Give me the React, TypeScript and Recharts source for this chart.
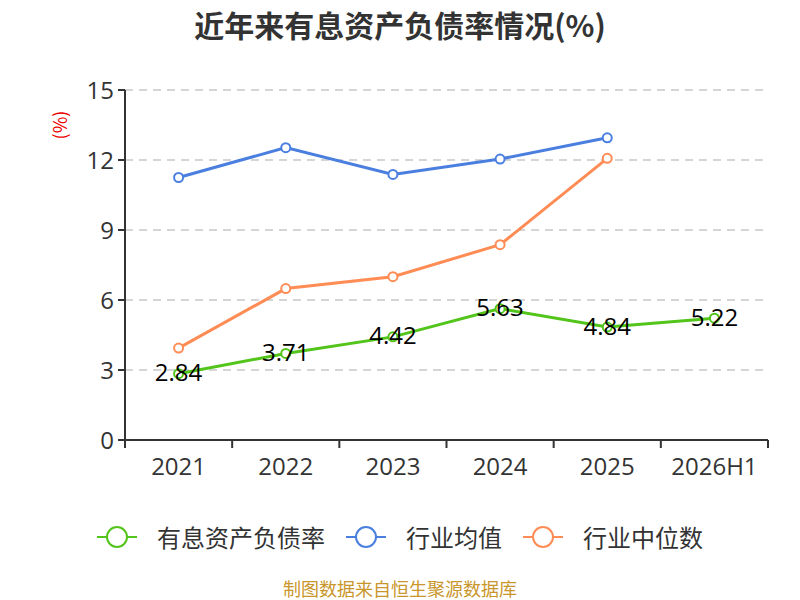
import { LineChart, Line, XAxis, YAxis, CartesianGrid, LabelList } from 'recharts'

const categories = ['2021', '2022', '2023', '2024', '2025', '2026H1']
const debtRatio = [2.84, 3.71, 4.42, 5.63, 4.84, 5.22]
const industryAvg = [11.25, 12.53, 11.38, 12.04, 12.95, null]
const industryMedian = [3.94, 6.49, 7.0, 8.37, 12.07, null]
const yTicks = [0, 3, 6, 9, 12, 15]

const data = categories.map((name, i) => ({
  name,
  ratio: debtRatio[i],
  avg: industryAvg[i],
  median: industryMedian[i],
}))

const legendItems = [
  { label: '有息资产负债率', color: '#52c41a' },
  { label: '行业均值', color: '#4a7fe0' },
  { label: '行业中位数', color: '#ff8c55' },
]

const font = '"Open Sans", "Noto Sans CJK SC", sans-serif'
const cjk = '"Noto Sans CJK SC", sans-serif'

function ValueLabel(props: any) {
  const { x, y, value } = props
  return (
    <text x={x} y={y - 2} textAnchor="middle" dominantBaseline="central" fontSize={24} fill="#000" fontFamily={font}>
      {value}
    </text>
  )
}

// category labels sit in the band centre, tick marks on the band edges
function BandTick(props: any) {
  const { x, y, payload, index, visibleTicksCount } = props
  const half = payload.offset || 0
  return (
    <g>
      <line x1={x - half} y1={y} x2={x - half} y2={y + 8} stroke="#333" strokeWidth={2} />
      {index === visibleTicksCount - 1 && (
        <line x1={x + half} y1={y} x2={x + half} y2={y + 8} stroke="#333" strokeWidth={2} />
      )}
      <text x={x} y={y + 25} textAnchor="middle" dominantBaseline="central" fontSize={24} fill="#333" fontFamily={font}>
        {payload.value}
      </text>
    </g>
  )
}

export default function App() {
  return (
    <div style={{ position: 'absolute', left: 0, top: 0, width: 800, height: 600, background: '#fff', fontFamily: font }}>
      <div style={{ position: 'absolute', top: 2, width: 800, textAlign: 'center', fontSize: 30, fontWeight: 'bold', color: '#333', fontFamily: cjk }}>
        近年来有息资产负债率情况(%)
      </div>
      <div style={{ position: 'absolute', left: 45, top: 112, fontSize: 18, color: '#e00', transform: 'rotate(-90deg)', fontFamily: cjk }}>
        (%)
      </div>
      <LineChart width={800} height={600} data={data} margin={{ top: 90, right: 32, bottom: 120, left: 65 }}>
        <CartesianGrid vertical={false} stroke="#c8c8c8" strokeWidth={1.5} strokeDasharray="8 6" />
        <XAxis
          dataKey="name"
          scale="band"
          stroke="#333"
          strokeWidth={2}
          tickLine={false}
          tickSize={0}
          tickMargin={0}
          height={40}
          tick={<BandTick />}
        />
        <YAxis
          domain={[0, 15]}
          ticks={yTicks}
          width={60}
          tickSize={7}
          tickMargin={4}
          stroke="#333"
          strokeWidth={2}
          tick={{ fontSize: 24, fill: '#333', fontFamily: font }}
        />
        <Line dataKey="avg" stroke="#4a7fe0" strokeWidth={3} dot={{ r: 4.5, fill: '#fff', strokeWidth: 2 }} isAnimationActive={false} />
        <Line dataKey="median" stroke="#ff8c55" strokeWidth={3} dot={{ r: 4.5, fill: '#fff', strokeWidth: 2 }} isAnimationActive={false} />
        <Line dataKey="ratio" stroke="#52c41a" strokeWidth={3} dot={{ r: 4.5, fill: '#fff', strokeWidth: 2 }} isAnimationActive={false}>
          <LabelList dataKey="ratio" content={<ValueLabel />} />
        </Line>
      </LineChart>
      <div style={{ position: 'absolute', top: 521, left: 0, width: 800, display: 'flex', justifyContent: 'center', gap: 21 }}>
        {legendItems.map((item) => (
          <div key={item.label} style={{ display: 'flex', alignItems: 'center', fontSize: 24, lineHeight: '32px', color: '#333', fontFamily: cjk }}>
            <svg width={40} height={24} style={{ marginRight: 20 }}>
              <line x1={0} y1={12} x2={40} y2={12} stroke={item.color} strokeWidth={2} />
              <circle cx={20} cy={12} r={10} fill="#fff" stroke={item.color} strokeWidth={2} />
            </svg>
            {item.label}
          </div>
        ))}
      </div>
      <div style={{ position: 'absolute', top: 576, width: 800, textAlign: 'center', fontSize: 18, lineHeight: '24px', color: '#c9962b', fontFamily: cjk }}>
        制图数据来自恒生聚源数据库
      </div>
    </div>
  )
}
